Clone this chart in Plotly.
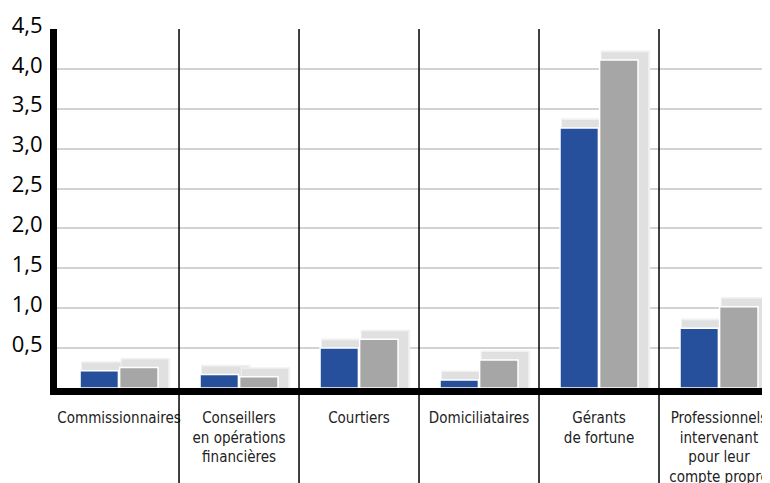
import plotly.graph_objects as go

categories = [
    "Commissionnaires",
    "Conseillers<br>en opérations<br>financières",
    "Courtiers",
    "Domiciliataires",
    "Gérants<br>de fortune",
    "Professionnels<br>intervenant<br>pour leur<br>compte propre",
]
series_blue = [0.215, 0.17, 0.50, 0.10, 3.26, 0.75]
series_gray = [0.257, 0.14, 0.61, 0.35, 4.11, 1.02]
y_tick_values = [0.5, 1.0, 1.5, 2.0, 2.5, 3.0, 3.5, 4.0, 4.5]
y_tick_labels = ["0,5", "1,0", "1,5", "2,0", "2,5", "3,0", "3,5", "4,0", "4,5"]

BLUE = "#26509c"
GRAY = "#a6a6a6"
BAR_W = 0.32
OFFS = [-0.325, 0.005]
SH_DX = 0.017      # shadow left shift (units)
SH_EXTRA = 0.067   # shadow extra width
SH_DY = 0.10       # shadow extra height

x = list(range(len(categories)))

fig = go.Figure()

for vals, off in ((series_blue, OFFS[0]), (series_gray, OFFS[1])):
    fig.add_trace(go.Bar(
        x=x, y=[v + SH_DY + 0.02 for v in vals], offset=off + SH_DX - 0.008,
        width=BAR_W + SH_EXTRA + 0.025, marker=dict(color="#f1f1f1", line=dict(width=0)),
        hoverinfo="skip", showlegend=False))
    fig.add_trace(go.Bar(
        x=x, y=[v + SH_DY for v in vals], offset=off + SH_DX,
        width=BAR_W + SH_EXTRA, marker=dict(color="#e0e0e0", line=dict(width=0)),
        hoverinfo="skip", showlegend=False))

for vals, off, col in ((series_blue, OFFS[0], BLUE), (series_gray, OFFS[1], GRAY)):
    fig.add_trace(go.Bar(
        x=x, y=vals, offset=off, width=BAR_W,
        marker=dict(color=col, line=dict(color="white", width=1.5)),
        showlegend=False))

for i in range(len(categories) - 1):
    fig.add_shape(type="line", xref="x", yref="paper",
                  x0=i + 0.5, x1=i + 0.5, y0=1.0, y1=-0.3,
                  line=dict(color="black", width=1.5), layer="above")

fig.update_layout(
    width=770, height=483,
    margin=dict(l=49, r=8, t=21, b=103, autoexpand=False),
    paper_bgcolor="white", plot_bgcolor="white",
    barmode="overlay",
    showlegend=False,
)

fig.update_xaxes(
    range=[-0.517, 5.425],
    tickmode="array", tickvals=x, ticktext=categories, tickangle=0,
    tickfont=dict(family="DejaVu Sans Condensed, sans-serif",
                  size=15, color="#222222"),
    ticks="", showgrid=False, zeroline=False,
    showline=True, linecolor="black", linewidth=7,
    ticklabeloverflow="allow", automargin=False,
    ticklabelstandoff=10,
)
fig.update_yaxes(
    range=[0, 4.5],
    tickmode="array", tickvals=y_tick_values, ticktext=y_tick_labels,
    tickfont=dict(family="Open Sans, sans-serif", size=22, color="black"),
    ticks="", showgrid=True, gridcolor="#d2d2d2", gridwidth=1.5,
    zeroline=False, showline=True, linecolor="black", linewidth=7,
    automargin=False, ticklabelshift=-4, ticklabelstandoff=3,
)

fig.write_html("out.html")
